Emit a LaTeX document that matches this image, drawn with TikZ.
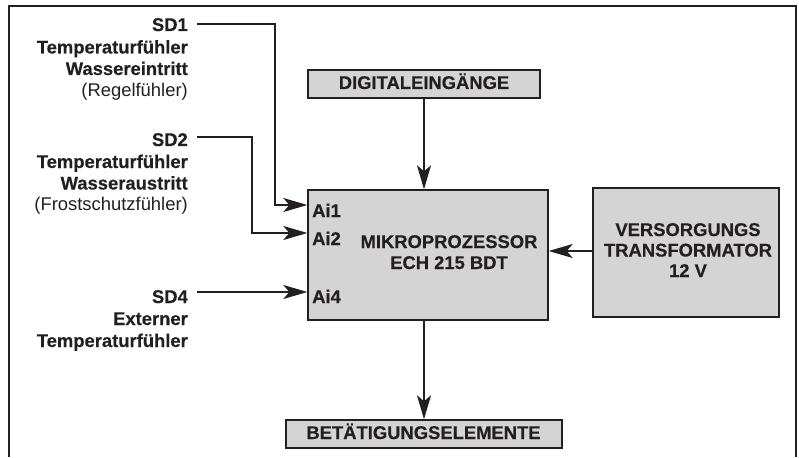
\documentclass[tikz,border=0pt]{standalone}
\usepackage{fontspec}
\setmainfont{Liberation Sans}[BoldFeatures={FakeBold=0.4}]
\usetikzlibrary{arrows.meta}
\definecolor{boxgray}{RGB}{212,212,212}
\definecolor{ink}{RGB}{35,31,32}
\tikzset{
  box/.style={draw=ink, line width=1.4pt, fill=boxgray, inner sep=0pt},
  txt/.style={inner sep=0pt, text=ink, font=\fontsize{18.4}{21.7}\selectfont\bfseries},
  rtxt/.style={inner sep=0pt, text=ink, font=\fontsize{18.4}{21.7}\selectfont},
  arr/.style={draw=ink, line width=1.8pt, -{Stealth[length=24pt,width=14pt,inset=6pt]}},
  frame/.style={draw=ink, line width=1.4pt}
}
\begin{document}
\begin{tikzpicture}[x=1pt,y=-1pt]
\useasboundingbox (0,0) rectangle (799,457);
\draw[frame] (9,457) -- (9,6) -- (796,6) -- (796,457);

% boxes
\node[box, minimum width=232pt, minimum height=28pt] (dig) at (424,84) {};
\node[txt, anchor=base] (digt) at (424,89) {DIGITALEINGÄNGE};
\node[box, minimum width=240pt, minimum height=130pt] (micro) at (428,255) {};
\node[txt, anchor=base] (mic1) at (449,248) {MIKROPROZESSOR};
\node[txt, anchor=base] (mic2) at (449,269) {ECH 215 BDT};
\node[box, minimum width=186pt, minimum height=129pt] (vers) at (686,252.5) {};
\node[txt, anchor=base] (ver1) at (688,236) {VERSORGUNGS};
\node[txt, anchor=base] (ver2) at (688,256.5) {TRANSFORMATOR};
\node[txt, anchor=base] (ver3) at (688,277) {12 V};
\node[box, minimum width=276pt, minimum height=28pt] (bet) at (424,434) {};
\node[txt, anchor=base] (bett) at (423.5,439) {BETÄTIGUNGSELEMENTE};

% Ai labels
\node[txt, anchor=base west] (ai1l) at (312,217) {Ai1};
\node[txt, anchor=base west] (ai2l) at (312,245) {Ai2};
\node[txt, anchor=base west] (ai4l) at (312,303) {Ai4};

% sensor labels
\node[txt, anchor=base east] (sd1) at (188,31) {SD1};
\node[txt, anchor=base east] (sd1a) at (188,53.5) {Temperaturfühler};
\node[txt, anchor=base east] (sd1b) at (188,75) {Wassereintritt};
\node[rtxt, anchor=base east] (sd1c) at (188,96.5) {(Regelfühler)};
\node[txt, anchor=base east] (sd2) at (188,146) {SD2};
\node[txt, anchor=base east] (sd2a) at (188,168) {Temperaturfühler};
\node[txt, anchor=base east] (sd2b) at (188,189.5) {Wasseraustritt};
\node[rtxt, anchor=base east] (sd2c) at (188,210.5) {(Frostschutzfühler)};
\node[txt, anchor=base east] (sd4) at (188,303) {SD4};
\node[txt, anchor=base east] (sd4a) at (188,325) {Externer};
\node[txt, anchor=base east] (sd4b) at (188,347) {Temperaturfühler};

\coordinate (ai1) at (micro.west |- 0,205);
\coordinate (ai2) at (micro.west |- 0,233);
\coordinate (ai4) at (micro.west |- 0,292);
\coordinate (s1) at (197,24);
\coordinate (s2) at (197,137);
\coordinate (s4) at (197,292);

% connectors
\draw[arr] (s1) -- (275,24) |- (ai1);
\draw[arr] (s2) -- (252,137) |- (ai2);
\draw[arr] (s4) -- (ai4);
\draw[arr] (dig.south) -- (dig.south |- micro.north);
\draw[arr] (vers.west |- 0,251) -- (micro.east |- 0,251);
\draw[arr] (bet.north |- micro.south) -- (bet.north);
\end{tikzpicture}
\end{document}
